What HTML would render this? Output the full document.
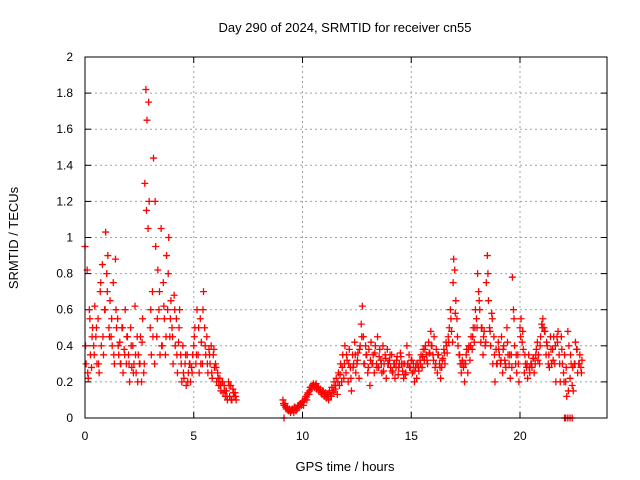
<!DOCTYPE html>
<html><head><meta charset="utf-8"><style>
body{margin:0;background:#fff}
svg{display:block;font-family:"Liberation Sans",sans-serif}
</style></head><body>
<svg id="chart" width="640" height="480" viewBox="0 0 640 480" xmlns="http://www.w3.org/2000/svg">
<rect width="640" height="480" fill="#fff"/>
<text x="345" y="32" font-size="13" text-anchor="middle">Day 290 of 2024, SRMTID for receiver cn55</text>
<text transform="translate(18,238) rotate(-90)" font-size="13" text-anchor="middle">SRMTID / TECUs</text>
<text x="345" y="471" font-size="13" text-anchor="middle">GPS time / hours</text>
<g id="grid"></g><g id="ticks"></g><g id="marks"></g>
<rect x="85" y="57" width="522" height="361" fill="none" stroke="#000" stroke-width="1"/>
</svg>
<script>
const xTicks=[0,5,10,15,20];
const yTicks=[0,0.2,0.4,0.6,0.8,1,1.2,1.4,1.6,1.8,2];
const yTickLabels=["0","0.2","0.4","0.6","0.8","1","1.2","1.4","1.6","1.8","2"];
const seg1Start=0, seg1Step=0.05;
const seg1Values=[.95,.3,.82,.22,.6,.35,.28,.5,.4,.62,
.45,.3,.55,.25,.7,.4,.85,.35,.6,1.03,
.8,.9,.5,.65,.45,.4,.75,.3,.88,.5,
.55,.35,.42,.3,.5,.25,.38,.6,.3,.45,
.35,.2,.5,.28,.4,.3,.62,.25,.45,.35,
.3,.45,.2,.55,.25,1.3,1.82,1.65,1.05,1.2,
.5,.35,.7,1.44,.3,.95,.45,.82,.6,.35,
1.05,.4,.75,.55,.35,.9,.6,1.0,.45,.65,
.5,.3,.68,.4,.55,.25,.42,.6,.35,.2,
.4,.22,.3,.18,.35,.25,.3,.2,.28,.35,
.4,.5,.3,.6,.35,.25,.55,.42,.3,.7,
.5,.35,.45,.25,.38,.3,.4,.22,.35,.28,
.3,.2,.25,.18,.22,.15,.2,.14,.18,.12,
.15,.1,.2,.12,.18,.1,.16,.12,.14,.1];
const seg1BStart=0.025, seg1BStep=0.1;
const seg1BValues=[.4,.25,.55,.45,.35,.5,.3,.75,.45,.6,
.7,.45,.55,.35,.6,.4,.3,.5,.35,.45,
.3,.4,.25,.35,.2,.3,.42,.3,1.15,1.75,
.6,.45,1.2,.55,.7,.4,.62,.45,.8,.55,
.45,.6,.35,.5,.3,.25,.35,.2,.3,.25,
.45,.35,.5,.3,.6,.4,.3,.35,.25,.38,
.28,.22,.18,.2,.15,.12,.18,.1,.14,.12];
const seg2Start=9.1, seg2Step=0.05;
const seg2Values=[.1,.07,.08,.05,.06,.04,.05,.03,
.04,.05,.03,.06,.04,.05,.07,.06,.08,.07,
.09,.07,.1,.12,.1,.14,.13,.17,.16,.18,
.19,.17,.18,.16,.17,.15,.16,.14,.13,.15,
.12,.14,.11,.13,.1,.15,.12,.17,.14,.2,
.16,.22,.13,.25,.18,.3,.2,.35,.22,.4,
.25,.32,.2,.38,.28,.15,.35,.3,.42,.25,
.3,.36,.22,.4,.52,.62,.45,.3,.4,.35,
.25,.38,.18,.42,.3,.35,.25,.4,.3,.45,
.28,.38,.32,.25,.4,.3,.35,.22,.38,.3,
.32,.28,.35,.25,.3,.22,.28,.34,.24,.3,
.36,.3,.26,.22,.3,.25,.4,.3,.35,.28,
.32,.25,.3,.2,.28,.22,.3,.26,.32,.35,
.28,.38,.32,.4,.35,.3,.42,.36,.48,.4,
.35,.45,.28,.38,.25,.35,.3,.22,.28,.33,
.38,.3,.42,.36,.45,.5,.6,.48,.42,.88,
.82,.65,.55,.4,.35,.3,.25,.32,.28,.2,
.3,.38,.25,.4,.32,.45,.38,.5,.42,.6,
.55,.8,.7,.6,.42,.5,.35,.48,.4,.75,
.9,.65,.5,.4,.58,.3,.45,.2,.38,.3,
.42,.35,.3,.45,.25,.4,.32,.28,.5,.35,
.3,.22,.35,.78,.6,.4,.3,.25,.35,.2,
.5,.55,.42,.38,.25,.3,.28,.22,.35,.25,
.3,.28,.33,.25,.3,.38,.42,.35,.3,.45,
.52,.55,.5,.48,.35,.4,.3,.28,.45,.3,
.38,.45,.3,.2,.45,.48,.35,.2,.45,.3,
.25,.35,.2,.12,.48,.4,.22,.3,.18,.15,
.3,.42,.38,.25,.3,.35,.28,.32];
const seg2BStart=9.125, seg2BStep=0.1;
const seg2BValues=[.08,.06,.05,.04,.05,.06,.05,.07,.08,.09,
.11,.13,.15,.17,.18,.19,.17,.16,.15,.13,
.12,.14,.12,.15,.18,.2,.24,.28,.3,.35,
.3,.22,.28,.35,.32,.38,.45,.3,.35,.28,
.32,.3,.36,.28,.34,.3,.26,.33,.3,.35,
.26,.3,.32,.28,.34,.3,.24,.3,.28,.32,
.26,.3,.28,.3,.34,.38,.32,.36,.4,.32,
.3,.35,.28,.32,.36,.4,.42,.55,.75,.58,
.45,.35,.3,.3,.35,.38,.4,.45,.5,.5,
.65,.5,.45,.42,.8,.48,.55,.35,.3,.38,
.32,.38,.3,.42,.35,.28,.55,.35,.3,.45,
.48,.35,.3,.28,.3,.33,.35,.32,.4,.5,
.48,.42,.35,.38,.32,.4,.42,.3,.38,.2,
.28,.15,.35,.28,.3,.38,.3,.25];
const zeroTimes=[9.15,22.05,22.1,22.2,22.3,22.4];

const X0=85,X1=607,Y0=418,Y1=57,XMAX=24,YMAX=2;
const xs=v=>X0+(X1-X0)*v/XMAX;
const ys=v=>Y0-(Y0-Y1)*v/YMAX;
const NS="http://www.w3.org/2000/svg";
const grid=document.getElementById('grid'),ticks=document.getElementById('ticks'),marks=document.getElementById('marks');
function mk(tag,attrs,parent){const e=document.createElementNS(NS,tag);for(const k in attrs)e.setAttribute(k,attrs[k]);parent.appendChild(e);return e;}
yTicks.forEach((v,i)=>{const y=ys(v);
 if(v>0&&v<YMAX){const g=mk('line',{x1:X0,x2:X1,y1:y,y2:y,stroke:'#a0a0a0','stroke-dasharray':'2,3'},grid);
 
 }
 const t=mk('line',{x1:X0,x2:X0+6,y1:y,y2:y,stroke:'#000'},ticks);
 
 
 const t2=mk('line',{x1:X1,x2:X1-6,y1:y,y2:y,stroke:'#000'},ticks);
 
 
 const l=mk('text',{x:X0-12,y:y+4,'font-size':12,'text-anchor':'end'},ticks);l.textContent=yTickLabels[i];
 
 });
xTicks.forEach(v=>{const x=xs(v);
 if(v>0){const g=mk('line',{x1:x,x2:x,y1:Y0,y2:Y1,stroke:'#a0a0a0','stroke-dasharray':'2,3'},grid);
 
 }
 const t=mk('line',{x1:x,x2:x,y1:Y0,y2:Y0-6,stroke:'#000'},ticks);
 
 
 const t2=mk('line',{x1:x,x2:x,y1:Y1,y2:Y1+6,stroke:'#000'},ticks);
 
 
 const l=mk('text',{x:x,y:Y0+22,'font-size':12,'text-anchor':'middle'},ticks);l.textContent=String(v);
 
 });
function plus(t,v){const x=xs(t),y=ys(v);
 const p=mk('path',{d:`M${x-3.5},${y}H${x+3.5}M${x},${y-3.5}V${y+3.5}`,stroke:'#ff0000','stroke-width':1.3,fill:'none'},marks);
 
 }
seg1Values.forEach((v,i)=>plus(seg1Start+i*seg1Step,v));
seg1BValues.forEach((v,i)=>plus(seg1BStart+i*seg1BStep,v));
seg2Values.forEach((v,i)=>plus(seg2Start+i*seg2Step,v));
seg2BValues.forEach((v,i)=>plus(seg2BStart+i*seg2BStep,v));
zeroTimes.forEach(t=>plus(t,0));
</script>
</body></html>
